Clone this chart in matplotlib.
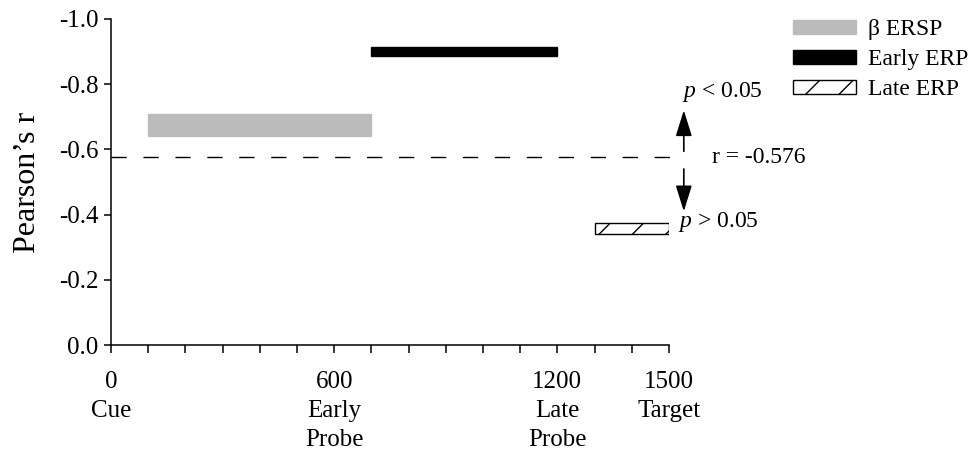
import matplotlib
matplotlib.use("Agg")
import matplotlib.pyplot as plt
from matplotlib.patches import Patch

plt.rcParams['font.family'] = ['Liberation Serif', 'DejaVu Serif']
plt.rcParams['mathtext.fontset'] = 'custom'
plt.rcParams['mathtext.rm'] = 'Liberation Serif'
plt.rcParams['mathtext.it'] = 'Liberation Serif:italic'
plt.rcParams['hatch.linewidth'] = 1.0

# intervals (ms) where the correlation passed / failed
names = ["\u03b2 ERSP", "Early ERP", "Late ERP"]
t_start = [100, 700, 1300]
t_end = [700, 1200, 1500]
r_lo = [-0.64, -0.885, -0.34]
r_hi = [-0.71, -0.915, -0.375]

r_crit = -0.576

xticks = [0, 600, 1200, 1500]
xlabels = ["0\nCue", "600\nEarly\nProbe", "1200\nLate\nProbe", "1500\nTarget"]
yticks = [0.0, -0.2, -0.4, -0.6, -0.8, -1.0]

fig = plt.figure(figsize=(9.72, 4.62), dpi=100)
ax = fig.add_axes([0.1142, 0.2532, 0.574, 0.7057])

faces = ['#bbbbbb', 'black', 'white']
edges = ['#bbbbbb', 'black', 'black']
hatches = [None, None, '/']
handles = []
for i in range(3):
    ax.barh((r_lo[i] + r_hi[i]) / 2, t_end[i] - t_start[i], left=t_start[i],
            height=abs(r_hi[i] - r_lo[i]), color=faces[i], edgecolor=edges[i],
            hatch=hatches[i], linewidth=1.0)
    handles.append(Patch(facecolor=faces[i], edgecolor=edges[i],
                         hatch=hatches[i], linewidth=1.0, label=names[i]))

# critical r line
ax.plot([0, 1527], [r_crit, r_crit], color='black', lw=1.0,
        dashes=(11, 12), clip_on=False)

arrow = dict(arrowstyle='-|>,head_length=1.6,head_width=0.5',
             color='black', lw=1.2, shrinkA=0, shrinkB=0, mutation_scale=10)
ax.annotate('', xy=(1540, -0.72), xytext=(1540, -0.594),
            annotation_clip=False, arrowprops=arrow)
ax.annotate('', xy=(1540, -0.41), xytext=(1540, -0.54),
            annotation_clip=False, arrowprops=arrow)
ax.text(1535, -0.775, r'$\it{p}$ < 0.05', fontsize=17, va='center', ha='left',
        clip_on=False)
ax.text(1524, -0.378, r'$\it{p}$ > 0.05', fontsize=17, va='center', ha='left',
        clip_on=False)
ax.text(1616, -0.575, 'r = -0.576', fontsize=17, va='center', ha='left',
        clip_on=False)

ax.set_xlim(0, 1500)
ax.set_ylim(0, -1.0)
ax.set_xticks(xticks)
ax.set_xticklabels(xlabels, fontsize=18, linespacing=1.4)
ax.set_xticks(range(0, 1501, 100), minor=True)
ax.set_yticks(yticks)
ax.set_yticklabels(['%.1f' % v if v != 0 else '0.0' for v in yticks], fontsize=18)
ax.tick_params(axis='x', which='both', direction='out', length=6, width=1.1, pad=13)
ax.tick_params(axis='y', direction='out', length=5, width=1.1, pad=4)
ax.set_ylabel("Pearson\u2019s r", fontsize=23, labelpad=12)

for s in ['top', 'right']:
    ax.spines[s].set_visible(False)
for s in ['left', 'bottom']:
    ax.spines[s].set_linewidth(1.1)

fig.legend(handles=handles, loc='upper left', bbox_to_anchor=(0.8158, 0.958),
           frameon=False, fontsize=17, handlelength=2.67, handleheight=0.55,
           handletextpad=0.5, labelspacing=0.38, borderaxespad=0, borderpad=0)

fig.savefig('out.png', dpi=100)
